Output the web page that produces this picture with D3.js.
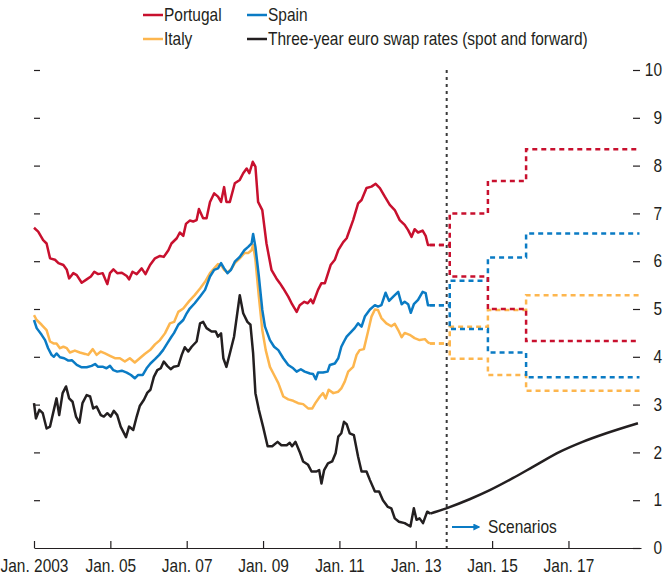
<!DOCTYPE html>
<html>
<head>
<meta charset="utf-8">
<script src="https://d3js.org/d3.v7.min.js"></script>
<style>
  body { margin: 0; background: #fff; }
  svg text { font-family: "Liberation Sans", Arial, sans-serif; font-size: 18px; fill: #231f20; }
</style>
</head>
<body>
<div id="chart"></div>
<script>
// historical series, [decimal year, percent]
var portugal = [
  [2003.00,6.70],[2003.11,6.62],[2003.24,6.44],[2003.33,6.37],[2003.42,6.06],[2003.55,6.03],[2003.64,5.96],
  [2003.77,5.92],[2003.86,5.82],[2003.92,5.64],[2004.03,5.75],[2004.12,5.71],[2004.25,5.55],[2004.38,5.62],
  [2004.49,5.68],[2004.58,5.78],[2004.68,5.73],[2004.80,5.75],[2004.92,5.52],[2004.99,5.75],[2005.08,5.83],
  [2005.18,5.75],[2005.30,5.76],[2005.43,5.69],[2005.49,5.62],[2005.58,5.78],[2005.69,5.73],[2005.82,5.85],
  [2005.92,5.73],[2006.04,5.92],[2006.17,6.06],[2006.30,6.11],[2006.40,6.09],[2006.52,6.23],[2006.60,6.37],
  [2006.74,6.48],[2006.82,6.60],[2006.91,6.53],[2006.98,6.78],[2007.08,6.85],[2007.17,6.83],[2007.26,6.86],
  [2007.32,7.09],[2007.43,6.90],[2007.52,6.90],[2007.61,7.24],[2007.72,7.42],[2007.82,7.35],[2007.90,7.24],
  [2007.98,7.55],[2008.04,7.24],[2008.13,7.24],[2008.26,7.63],[2008.39,7.70],[2008.48,7.84],[2008.57,7.94],
  [2008.64,7.84],[2008.73,8.08],[2008.80,7.98],[2008.87,7.24],[2008.98,7.07],[2009.09,6.37],[2009.22,5.82],
  [2009.35,5.64],[2009.44,5.54],[2009.53,5.43],[2009.66,5.26],[2009.76,5.10],[2009.88,4.94],[2009.96,5.08],
  [2010.08,5.15],[2010.17,5.12],[2010.25,5.20],[2010.31,5.12],[2010.44,5.40],[2010.53,5.54],[2010.62,5.54],
  [2010.77,5.92],[2010.88,6.03],[2010.97,6.23],[2011.10,6.40],[2011.19,6.48],[2011.36,6.86],[2011.49,7.21],
  [2011.58,7.28],[2011.71,7.53],[2011.84,7.56],[2011.95,7.62],[2012.06,7.53],[2012.19,7.35],[2012.32,7.18],
  [2012.45,7.07],[2012.58,6.86],[2012.71,6.76],[2012.80,6.65],[2012.89,6.51],[2012.97,6.67],[2013.06,6.60],
  [2013.18,6.64],[2013.26,6.53],[2013.32,6.34],[2013.37,6.34]
];
var spain = [
  [2003.00,4.77],[2003.07,4.60],[2003.20,4.46],[2003.29,4.35],[2003.37,4.18],[2003.46,4.04],[2003.52,4.00],
  [2003.59,4.07],[2003.68,3.99],[2003.79,3.97],[2003.90,3.92],[2003.99,3.93],[2004.12,3.83],[2004.25,3.78],
  [2004.38,3.78],[2004.51,3.81],[2004.60,3.85],[2004.68,3.79],[2004.81,3.79],[2004.90,3.76],[2004.99,3.81],
  [2005.08,3.72],[2005.18,3.69],[2005.30,3.71],[2005.43,3.67],[2005.54,3.62],[2005.64,3.55],[2005.73,3.62],
  [2005.85,3.62],[2005.95,3.76],[2006.05,3.86],[2006.17,3.95],[2006.28,4.04],[2006.38,4.14],[2006.49,4.28],
  [2006.60,4.42],[2006.67,4.50],[2006.78,4.67],[2006.91,4.77],[2007.00,4.91],[2007.08,5.01],[2007.21,5.12],
  [2007.35,5.26],[2007.48,5.40],[2007.61,5.68],[2007.72,5.82],[2007.82,5.85],[2007.90,5.96],[2007.98,5.85],
  [2008.07,5.75],[2008.16,5.82],[2008.26,5.99],[2008.39,6.09],[2008.51,6.23],[2008.61,6.30],[2008.70,6.37],
  [2008.74,6.57],[2008.80,6.30],[2008.89,5.68],[2008.98,4.98],[2009.05,4.63],[2009.18,4.35],[2009.29,4.21],
  [2009.40,4.14],[2009.53,3.97],[2009.66,3.83],[2009.79,3.76],[2009.88,3.69],[2009.99,3.74],[2010.09,3.69],
  [2010.23,3.65],[2010.31,3.64],[2010.38,3.53],[2010.44,3.67],[2010.57,3.67],[2010.69,3.69],[2010.75,3.83],
  [2010.88,3.86],[2010.97,3.97],[2011.05,4.21],[2011.12,4.32],[2011.19,4.42],[2011.32,4.53],[2011.40,4.60],
  [2011.49,4.70],[2011.58,4.63],[2011.67,4.85],[2011.80,4.99],[2011.93,5.08],[2012.01,5.05],[2012.10,5.08],
  [2012.21,5.34],[2012.30,5.17],[2012.41,5.26],[2012.54,5.36],[2012.63,5.10],[2012.71,5.15],[2012.80,5.10],
  [2012.87,4.92],[2012.95,5.10],[2013.06,5.19],[2013.18,5.36],[2013.26,5.33],[2013.32,5.08],[2013.37,5.08]
];
var italy = [
  [2003.00,4.87],[2003.07,4.77],[2003.20,4.67],[2003.33,4.56],[2003.42,4.32],[2003.51,4.28],[2003.59,4.28],
  [2003.68,4.18],[2003.77,4.21],[2003.86,4.18],[2003.94,4.09],[2004.07,4.13],[2004.20,4.09],[2004.34,4.06],
  [2004.42,4.04],[2004.54,4.16],[2004.64,4.04],[2004.75,4.11],[2004.86,4.07],[2004.99,4.02],[2005.12,3.97],
  [2005.25,3.97],[2005.38,3.90],[2005.51,3.97],[2005.64,3.88],[2005.77,3.97],[2005.90,4.06],[2006.04,4.14],
  [2006.17,4.26],[2006.30,4.35],[2006.43,4.49],[2006.56,4.70],[2006.67,4.73],[2006.78,4.94],[2006.91,5.01],
  [2007.07,5.17],[2007.21,5.29],[2007.35,5.43],[2007.48,5.57],[2007.61,5.75],[2007.72,5.85],[2007.82,5.94],
  [2007.90,5.92],[2007.98,5.82],[2008.07,5.76],[2008.18,5.85],[2008.26,5.96],[2008.39,6.06],[2008.51,6.17],
  [2008.61,6.17],[2008.70,6.23],[2008.74,6.34],[2008.80,6.03],[2008.89,5.26],[2008.98,4.56],[2009.07,4.14],
  [2009.18,3.79],[2009.29,3.62],[2009.40,3.45],[2009.53,3.17],[2009.66,3.11],[2009.79,3.08],[2009.92,3.03],
  [2010.05,3.01],[2010.18,2.92],[2010.29,2.92],[2010.37,3.03],[2010.49,3.17],[2010.57,3.24],[2010.64,3.13],
  [2010.72,3.31],[2010.84,3.24],[2010.97,3.27],[2011.05,3.34],[2011.14,3.48],[2011.23,3.69],[2011.36,3.79],
  [2011.45,4.04],[2011.53,4.14],[2011.64,4.16],[2011.75,4.53],[2011.84,4.84],[2011.93,4.99],[2012.01,4.98],
  [2012.10,4.81],[2012.23,4.70],[2012.36,4.64],[2012.45,4.69],[2012.54,4.56],[2012.63,4.41],[2012.71,4.50],
  [2012.84,4.46],[2012.97,4.39],[2013.10,4.35],[2013.24,4.37],[2013.32,4.30],[2013.37,4.28]
];
var swap = [
  [2003.00,3.03],[2003.05,2.71],[2003.14,2.89],[2003.23,2.82],[2003.33,2.50],[2003.42,2.54],[2003.52,2.89],
  [2003.59,3.13],[2003.66,2.78],[2003.75,3.24],[2003.84,3.38],[2003.92,3.13],[2004.01,3.06],[2004.10,2.75],
  [2004.19,2.62],[2004.27,3.03],[2004.38,3.20],[2004.47,3.17],[2004.55,2.92],[2004.64,2.96],[2004.75,2.78],
  [2004.83,2.75],[2004.92,2.82],[2005.01,2.75],[2005.09,2.87],[2005.18,2.78],[2005.27,2.54],[2005.34,2.43],
  [2005.41,2.32],[2005.49,2.54],[2005.60,2.47],[2005.69,2.75],[2005.77,2.97],[2005.88,3.10],[2005.97,3.25],
  [2006.05,3.31],[2006.14,3.58],[2006.23,3.72],[2006.32,3.76],[2006.40,3.90],[2006.49,3.81],[2006.58,3.74],
  [2006.66,3.79],[2006.78,3.81],[2006.87,4.04],[2006.95,4.20],[2007.04,4.11],[2007.13,4.21],[2007.26,4.32],
  [2007.35,4.70],[2007.43,4.73],[2007.52,4.60],[2007.65,4.53],[2007.76,4.53],[2007.82,4.42],[2007.90,4.49],
  [2007.96,3.97],[2008.04,3.79],[2008.13,4.07],[2008.24,4.42],[2008.39,5.29],[2008.48,4.91],[2008.59,4.73],
  [2008.67,4.67],[2008.74,4.07],[2008.80,3.24],[2008.89,2.89],[2009.00,2.54],[2009.12,2.13],[2009.24,2.13],
  [2009.38,2.22],[2009.48,2.15],[2009.62,2.15],[2009.70,2.20],[2009.76,2.13],[2009.85,2.22],[2009.96,2.01],
  [2010.05,1.81],[2010.18,1.74],[2010.27,1.60],[2010.40,1.60],[2010.47,1.63],[2010.53,1.35],[2010.60,1.63],
  [2010.70,1.77],[2010.81,1.81],[2010.90,1.98],[2010.97,2.33],[2011.05,2.40],[2011.12,2.64],[2011.19,2.59],
  [2011.27,2.40],[2011.38,2.36],[2011.49,1.91],[2011.58,1.60],[2011.71,1.60],[2011.80,1.42],[2011.93,1.18],
  [2012.04,1.18],[2012.14,1.00],[2012.27,0.86],[2012.36,0.83],[2012.45,0.62],[2012.56,0.55],[2012.71,0.52],
  [2012.86,0.45],[2012.95,0.83],[2013.02,0.59],[2013.10,0.62],[2013.19,0.52],[2013.30,0.76],[2013.38,0.72]
];
// forward swap curve
var swapForward = [
  [2013.38,0.72],[2013.80,0.83],[2014.41,1.02],[2014.94,1.21],[2015.54,1.46],[2016.16,1.74],
  [2016.77,2.01],[2017.37,2.22],[2017.99,2.40],[2018.82,2.61]
];

// scenario steps
var stepDates = [2013.37, 2013.89, 2014.89, 2015.89, 2018.86];
var portugalHigh = [6.34, 7.00, 7.68, 8.34, 8.34];
var portugalLow  = [6.34, 5.68, 5.00, 4.33, 4.33];
var spainHigh    = [5.08, 5.59, 6.08, 6.58, 6.58];
var spainLow     = [5.08, 4.58, 4.09, 3.57, 3.57];
var italyHigh    = [4.28, 4.63, 4.98, 5.29, 5.29];
var italyLow     = [4.28, 3.96, 3.62, 3.29, 3.29];

var scenarioStart = 2013.81;
var xTicks = [2003, 2005, 2007, 2009, 2011, 2013, 2015, 2017];
var xTickLabels = ["Jan. 2003", "Jan. 05", "Jan. 07", "Jan. 09", "Jan. 11", "Jan. 13", "Jan. 15", "Jan. 17"];
var yTicks = [0, 1, 2, 3, 4, 5, 6, 7, 8, 9, 10];

var colors = { portugal: "#c8102e", spain: "#0a7bc4", italy: "#fdb64e", swap: "#231f20" };

var width = 664, height = 577;
var squeeze = 0.86;   // fake a condensed face
var svg = d3.select("#chart").append("svg")
    .attr("width", width)
    .attr("height", height);

function condense(sel) {
  sel.each(function() {
    var t = d3.select(this);
    var x0 = +t.attr("x") || 0;
    t.attr("x", x0 / squeeze).attr("transform", "scale(" + squeeze + ",1)");
  });
}

var x = d3.scaleLinear().domain([2003, 2018.9]).range([34, 641]);
var y = d3.scaleLinear().domain([0, 10]).range([548, 70]);

// axes
var xAxis = d3.axisBottom(x)
    .tickValues(xTicks)
    .tickFormat(function(d, i) { return xTickLabels[i]; })
    .tickSizeInner(-7)
    .tickSizeOuter(0)
    .tickPadding(14);
var gx = svg.append("g").attr("transform", "translate(0," + y(0) + ")").call(xAxis);
gx.attr("font-size", null).attr("font-family", null);
gx.select(".domain").attr("stroke", "#231f20").attr("stroke-width", 1.2);
gx.selectAll(".tick line").attr("stroke", "#231f20").attr("stroke-width", 1.2);
gx.selectAll("text").attr("dy", "0.9em").attr("y", 8).call(condense);

var gl = svg.append("g").attr("transform", "translate(" + x(2003) + ",0)")
    .call(d3.axisLeft(y).tickValues(yTicks.slice(1)).tickSizeInner(-6).tickSizeOuter(0).tickFormat(""));
gl.select(".domain").remove();
gl.selectAll(".tick line").attr("stroke", "#231f20").attr("stroke-width", 1.2);

var gr = svg.append("g").attr("transform", "translate(640,0)")
    .call(d3.axisRight(y).tickValues(yTicks).tickSizeInner(-7).tickSizeOuter(0).tickPadding(22));
gr.attr("font-size", null).attr("font-family", null);
gr.select(".domain").remove();
gr.selectAll(".tick line").attr("stroke", "#231f20").attr("stroke-width", 1.2);
gr.selectAll("text").attr("text-anchor", "end").call(condense);

// scenario start marker
svg.append("line")
    .attr("x1", x(scenarioStart)).attr("x2", x(scenarioStart))
    .attr("y1", y(10)).attr("y2", y(0))
    .attr("stroke", "#3a3a3a")
    .attr("stroke-width", 2)
    .attr("stroke-dasharray", "3,4");

var line = d3.line().x(function(d) { return x(d[0]); }).y(function(d) { return y(d[1]); });
var stepLine = d3.line().curve(d3.curveStepAfter)
    .x(function(d) { return x(d[0]); }).y(function(d) { return y(d[1]); });

function steps(vals) {
  return stepDates.map(function(t, i) { return [t, vals[i]]; });
}

var scenarios = [
  [italyHigh, colors.italy], [italyLow, colors.italy],
  [spainHigh, colors.spain], [spainLow, colors.spain],
  [portugalHigh, colors.portugal], [portugalLow, colors.portugal]
];
scenarios.forEach(function(s) {
  svg.append("path")
      .attr("d", stepLine(steps(s[0])))
      .attr("fill", "none")
      .attr("stroke", s[1])
      .attr("stroke-width", 2.5)
      .attr("stroke-dasharray", "5,4");
});

[[italy, colors.italy], [spain, colors.spain], [portugal, colors.portugal], [swap, colors.swap]].forEach(function(s) {
  svg.append("path")
      .attr("d", line(s[0]))
      .attr("fill", "none")
      .attr("stroke", s[1])
      .attr("stroke-width", 2.5)
      .attr("stroke-linejoin", "round");
});

svg.append("path")
    .attr("d", line.curve(d3.curveMonotoneX)(swapForward))
    .attr("fill", "none")
    .attr("stroke", colors.swap)
    .attr("stroke-width", 2.5);

// scenarios arrow
svg.append("defs").append("marker")
    .attr("id", "arrow")
    .attr("viewBox", "0 0 10 10")
    .attr("refX", 8).attr("refY", 5)
    .attr("markerWidth", 3.5).attr("markerHeight", 3.5)
    .attr("orient", "auto")
  .append("path")
    .attr("d", "M0,0L10,5L0,10z")
    .attr("fill", colors.spain);

svg.append("line")
    .attr("x1", 452).attr("x2", 479)
    .attr("y1", 527).attr("y2", 527)
    .attr("stroke", colors.spain)
    .attr("stroke-width", 2)
    .attr("marker-end", "url(#arrow)");
svg.append("text").attr("x", 488).attr("y", 533).text("Scenarios").call(condense);

// legend
var legend = [
  ["Portugal", colors.portugal, 143, 15],
  ["Spain", colors.spain, 247, 15],
  ["Italy", colors.italy, 143, 39],
  ["Three-year euro swap rates (spot and forward)", colors.swap, 247, 39]
];
legend.forEach(function(l) {
  svg.append("line")
      .attr("x1", l[2]).attr("x2", l[2] + 20)
      .attr("y1", l[3]).attr("y2", l[3])
      .attr("stroke", l[1])
      .attr("stroke-width", 2.5);
  svg.append("text").attr("x", l[2] + 21).attr("y", l[3] + 6).text(l[0]).call(condense);
});
</script>
</body>
</html>
